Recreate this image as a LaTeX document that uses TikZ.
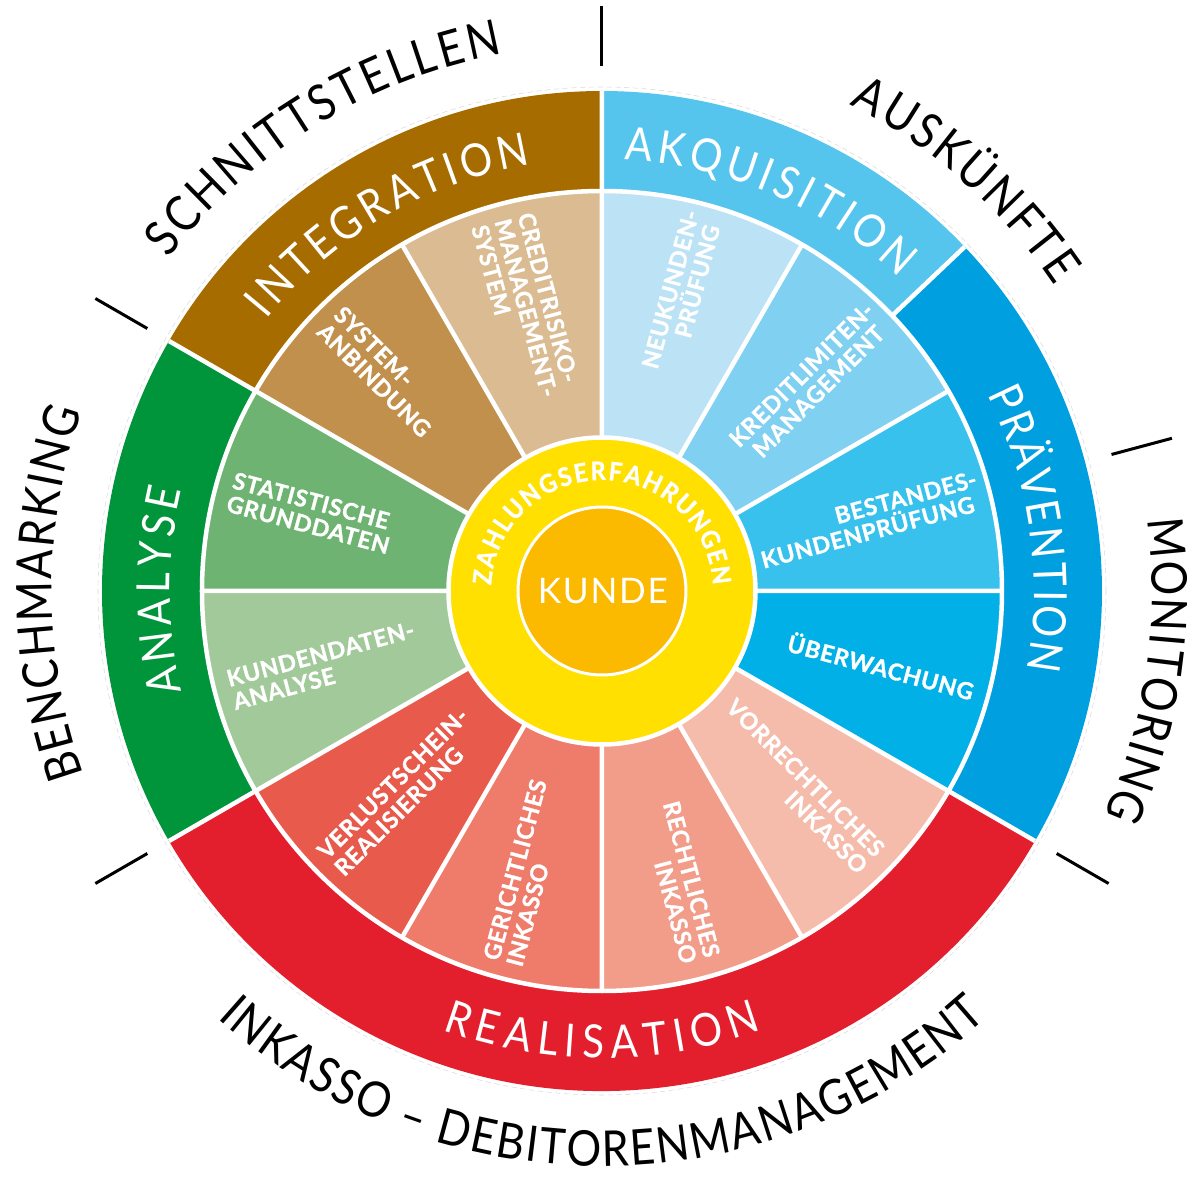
\documentclass[tikz,border=0pt]{standalone}
\usepackage{fontspec}
\usepackage{tikz}
\usetikzlibrary{positioning,decorations.text}
\setmainfont{Lato}
\newfontfamily\segfont[LetterSpace=3,BoldFeatures={FakeBold=1.2}]{Lato}
\newfontfamily\ringfont[FakeStretch=0.88]{Lato}
\newfontfamily\zahlfont[FakeStretch=0.92,BoldFeatures={FakeBold=1.2}]{Lato}
\newfontfamily\kundefont[LetterSpace=5]{Lato}
\newcommand{\ringfnt}{\ringfont\fontsize{26}{26}\selectfont}
\newcommand{\outfnt}{\ringfont\fontsize{28}{28}\selectfont}
\newcommand{\zahlfnt}{\zahlfont\bfseries\fontsize{14.5}{14.5}\selectfont}
\definecolor{integ}{HTML}{A66C00}
\definecolor{sysanb}{HTML}{C0904C}
\definecolor{credit}{HTML}{DABB92}
\definecolor{akq}{HTML}{56C5EE}
\definecolor{neuk}{HTML}{BBE3F5}
\definecolor{kredit}{HTML}{80D0F1}
\definecolor{bestand}{HTML}{38C1EC}
\definecolor{ueberw}{HTML}{00B0E6}
\definecolor{praev}{HTML}{009FE0}
\definecolor{real}{HTML}{E31E2D}
\definecolor{vorrecht}{HTML}{F5BBAB}
\definecolor{rechtl}{HTML}{F29C8A}
\definecolor{gericht}{HTML}{EF7B6A}
\definecolor{verlust}{HTML}{E85B4C}
\definecolor{analyse}{HTML}{00943B}
\definecolor{statist}{HTML}{6EB371}
\definecolor{kundend}{HTML}{A2C99A}
\definecolor{zahlung}{HTML}{FFE000}
\definecolor{kunde}{HTML}{FBB900}
\tikzset{wedgesep/.style={white,line width=0.09cm},
  tickline/.style={black,line width=0.06cm},
  seg/.style={text=white,font=\segfont\bfseries\fontsize{13.2}{13.6}\selectfont,inner sep=0pt},
  segl/.style={seg,anchor=west,align=left},
  segr/.style={seg,anchor=east,align=right},
  ringtext/.style={decorate,decoration={text along path,text align={fit to path},text color=white,text={#1}}},
  outtext/.style={decorate,decoration={text along path,text align={fit to path},text color=black,text={#1}}}}

\begin{document}
\begin{tikzpicture}
    \useasboundingbox (-12.04,-11.76) rectangle (11.88,11.82);
    \draw[black!15,densely dashed,line width=0.3pt] (0,0) circle (10.08);

    \fill[integ] (90:8) arc (90:150:8) -- (150:10) arc (150:90:10) -- cycle;
    \fill[akq] (43.5:8) arc (43.5:90:8) -- (90:10) arc (90:43.5:10) -- cycle;
    \fill[praev] (-30:8) arc (-30:43.5:8) -- (43.5:10) arc (43.5:-30:10) -- cycle;
    \fill[real] (210:8) arc (210:330:8) -- (330:10) arc (330:210:10) -- cycle;
    \fill[analyse] (150:8) arc (150:210:8) -- (210:10) arc (210:150:10) -- cycle;

    \fill[credit] (0,0) -- (90:8) arc (90:120:8) -- cycle;
    \fill[sysanb] (0,0) -- (120:8) arc (120:150:8) -- cycle;
    \fill[statist] (0,0) -- (150:8) arc (150:180:8) -- cycle;
    \fill[kundend] (0,0) -- (180:8) arc (180:210:8) -- cycle;
    \fill[verlust] (0,0) -- (210:8) arc (210:240:8) -- cycle;
    \fill[gericht] (0,0) -- (240:8) arc (240:270:8) -- cycle;
    \fill[rechtl] (0,0) -- (270:8) arc (270:300:8) -- cycle;
    \fill[vorrecht] (0,0) -- (300:8) arc (300:330:8) -- cycle;
    \fill[ueberw] (0,0) -- (330:8) arc (330:360:8) -- cycle;
    \fill[bestand] (0,0) -- (0:8) arc (0:30:8) -- cycle;
    \fill[kredit] (0,0) -- (30:8) arc (30:60:8) -- cycle;
    \fill[neuk] (0,0) -- (60:8) arc (60:90:8) -- cycle;

    \draw[wedgesep] (0,0) circle (8);
    \draw[wedgesep] (0,0) -- (0:8) (0,0) -- (30:8) (0,0) -- (60:8) (0,0) -- (90:10)
        (0,0) -- (120:8) (0,0) -- (150:10) (0,0) -- (180:8) (0,0) -- (210:10)
        (0,0) -- (240:8) (0,0) -- (270:8) (0,0) -- (300:8) (0,0) -- (330:10);
    \draw[wedgesep] (43.5:8) -- (43.5:10);

    \filldraw[fill=zahlung,draw=white,line width=0.09cm] (0,0) circle (3.07);
    \filldraw[fill=kunde,draw=white,line width=0.06cm] (0,0) circle (1.68);
    \node[font=\kundefont\fontsize{20}{20}\selectfont,text=white,xshift=0.5pt] (kunde) at (0,0) {KUNDE};
    \path[ringtext={|\zahlfnt|ZAHLUNGSERFAHRUNGEN}] (177:2.22) arc (177:3:2.22);

    \node[segl,rotate=-75] (credit) at (105:7.7) {CREDITRISIKO-\\MANAGEMENT-\\SYSTEM};
    \node[segl,rotate=-45] (sysanb) at (135:7.7) {SYSTEM-\\ANBINDUNG};
    \node[segl,rotate=-15] (statist) at (165:7.7) {STATISTISCHE\\GRUNDDATEN};
    \node[segl,rotate=15] (kundend) at (195:7.7) {KUNDENDATEN-\\ANALYSE};
    \node[segl,rotate=45] (verlust) at (225:7.7) {VERLUSTSCHEIN-\\REALISIERUNG};
    \node[segl,rotate=75] (gericht) at (255:7.7) {GERICHTLICHES\\INKASSO};
    \node[segr,rotate=-75] (rechtl) at (285:7.64) {RECHTLICHES\\INKASSO};
    \node[segr,rotate=-45] (vorrecht) at (315:7.64) {VORRECHTLICHES\\INKASSO};
    \node[segr,rotate=-15] (ueberw) at (345:7.7) {ÜBERWACHUNG};
    \node[segr,rotate=15] (bestand) at (15:7.64) {BESTANDES\rlap{-}\\KUNDENPRÜFUNG};
    \node[segr,rotate=45] (kredit) at (45:7.64) {KREDITLIMITEN\rlap{-}\\MANAGEMENT};
    \node[segr,rotate=75] (neuk) at (75:7.64) {NEUKUNDEN\rlap{-}\\PRÜFUNG};

    \path[ringtext={|\ringfnt|INTEGRATION}] (141:8.64) arc (141:99.5:8.64);
    \path[ringtext={|\ringfnt|AKQUISITION}] (87:8.64) arc (87:46.5:8.64);
    \path[ringtext={|\ringfnt|PRÄVENTION}] (27:8.64) arc (27:-10.5:8.64);
    \path[ringtext={|\ringfnt|REALISATION}] (250:9.34) arc (250:290:9.34);
    \path[ringtext={|\ringfnt|ANALYSE}] (193.5:8.64) arc (193.5:166.5:8.64);

    \path[outtext={|\outfnt|SCHNITTSTELLEN}] (142.5:10.92) arc (142.5:100.5:10.92);
    \path[outtext={|\outfnt|AUSKÜNFTE}] (63:10.92) arc (63:34:10.92);
    \path[outtext={|\outfnt|MONITORING}] (7.5:11) arc (7.5:-24:11);
    \path[outtext={|\outfnt|INKASSO – DEBITORENMANAGEMENT}] (228:11.5) arc (228:312:11.5);
    \path[outtext={|\outfnt|BENCHMARKING}] (199.5:11) arc (199.5:161:11);

    \draw[tickline] (90:10.5) -- (90:11.7);
    \draw[tickline] (150:10.5) -- (150:11.7);
    \draw[tickline] (210:10.5) -- (210:11.7);
    \draw[tickline] (330:10.5) -- (330:11.7);
    \draw[tickline] (15:10.55) -- (15:11.8);
\end{tikzpicture}
\end{document}
